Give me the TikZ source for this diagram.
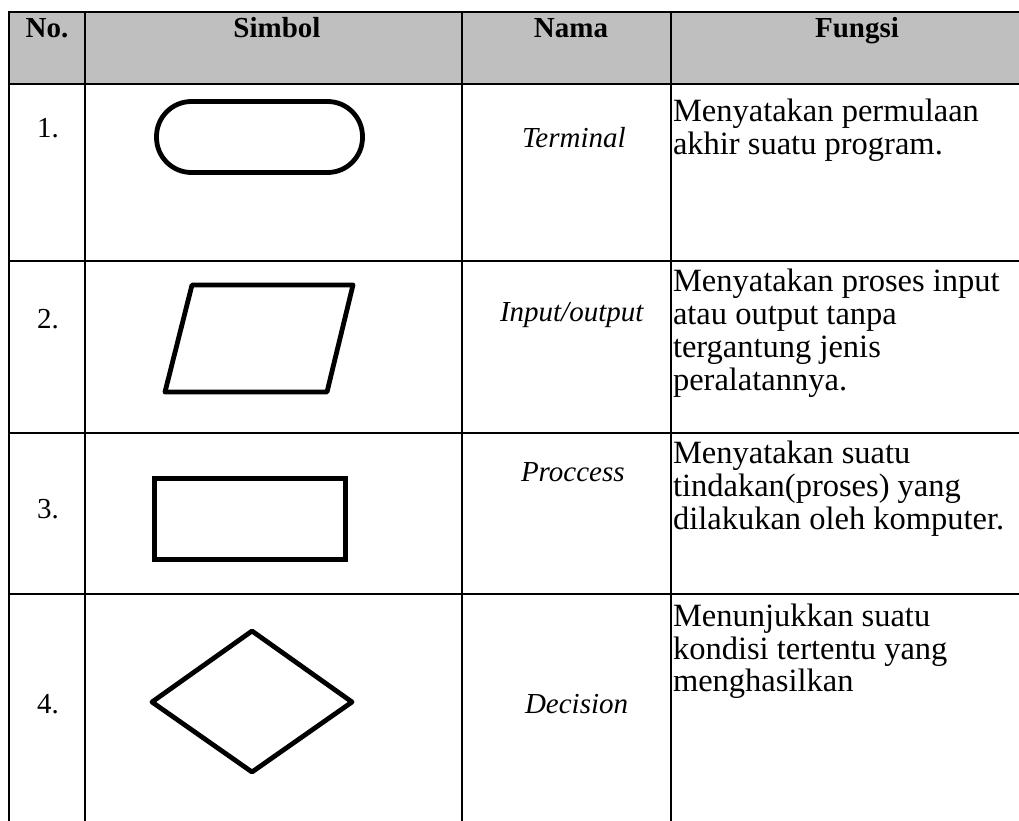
\documentclass[tikz,border=0pt]{standalone}
\usepackage{fontspec}
\setmainfont{Liberation Serif}
\definecolor{headgray}{HTML}{BFBFBF}
\begin{document}
\begin{tikzpicture}[x=1pt,y=-1pt,
  every node/.style={inner sep=0pt, outer sep=0pt, font=\fontsize{29}{33}\selectfont},
  head/.style={anchor=base, font=\fontsize{29}{33}\selectfont\bfseries},
  num/.style={anchor=base west},
  nama/.style={anchor=base west, font=\fontsize{29}{33}\selectfont\itshape},
  fungsi/.style={anchor=base west, font=\fontsize{32.5}{33}\selectfont},
  grid/.style={line width=2.5pt},
  sym/.style={line width=4.8pt, line join=round},
  symmiter/.style={line width=5pt, line join=miter}]
\useasboundingbox (0,0) rectangle (1019,821);
% header background
\fill[headgray] (9,12) rectangle (1030,84);
% table lines
\draw[grid] (1030,12) -- (9,12) -- (9,830);
\draw[grid] (85,12) -- (85,830);
\draw[grid] (462,12) -- (462,830);
\draw[grid] (671,12) -- (671,830);
\draw[grid] (9,84) -- (1030,84);
\draw[grid] (9,261) -- (1030,261);
\draw[grid] (9,433) -- (1030,433);
\draw[grid] (9,594) -- (1030,594);
% header
\node[head] (hno) at (47,38) {No.};
\node[head] (hsim) at (277,38) {Simbol};
\node[head] (hnama) at (571,38) {Nama};
\node[head] (hfun) at (857,38) {Fungsi};
% row 1
\node[num] (n1) at (37,138) {1.};
\draw[sym, rounded corners=35pt] (156.5,101.5) rectangle (362.5,172.5);
\node[nama] (nm1) at (522,148) {Terminal};
\node[fungsi] (f1a) at (673,122) {Menyatakan permulaan};
\node[fungsi] (f1b) at (673,155) {akhir suatu program.};
% row 2
\node[num] (n2) at (37,328) {2.};
\draw[sym] (192,285) -- (353,285) -- (327,392) -- (165,392) -- cycle;
\node[nama] (nm2) at (500,321) {Input/output};
\node[fungsi] (f2a) at (673,291) {Menyatakan proses input};
\node[fungsi] (f2b) at (673,324) {atau output tanpa};
\node[fungsi] (f2c) at (673,357) {tergantung jenis};
\node[fungsi] (f2d) at (673,390) {peralatannya.};
% row 3
\node[num] (n3) at (37,518) {3.};
\draw[symmiter] (154.5,478.5) rectangle (345.5,559.5);
\node[nama] (nm3) at (521,481) {Proccess};
\node[fungsi] (f3a) at (673,463) {Menyatakan suatu};
\node[fungsi] (f3b) at (673,496) {tindakan(proses) yang};
\node[fungsi] (f3c) at (673,529) {dilakukan oleh komputer.};
% row 4
\node[num] (n4) at (37,713) {4.};
\draw[sym] (152,702) -- (252,631) -- (352,702) -- (252,772) -- cycle;
\node[nama] (nm4) at (525,713) {Decision};
\node[fungsi] (f4a) at (673,626) {Menunjukkan suatu};
\node[fungsi] (f4b) at (673,659) {kondisi tertentu yang};
\node[fungsi] (f4c) at (673,691) {menghasilkan};
\end{tikzpicture}
\end{document}
